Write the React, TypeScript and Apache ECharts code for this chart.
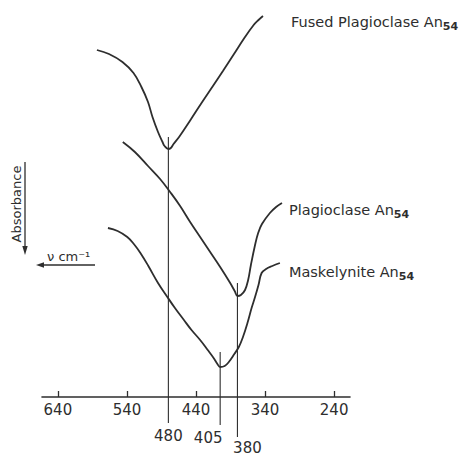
import React, { useEffect, useRef } from "react";
import * as echarts from "echarts";

// Wavenumber (cm^-1) axis ticks
const tickValues = [640, 540, 440, 340, 240];

// Fused Plagioclase An54 (relative absorbance, arbitrary units; higher = less absorbance)
const fusedWavenumber = [583.5, 566, 546.5, 530.5, 519, 509.5, 503, 495, 488.5, 485.5, 480, 476.5, 472.5, 464.5, 448, 432, 414.5, 401, 385, 370, 356.5, 349.5, 343];
const fusedAbsorbance = [347, 343, 335, 324, 310, 295, 280, 265, 255, 251, 248, 249, 253, 260, 277, 294, 312, 326, 343, 359, 372, 377, 381];

// Plagioclase An54
const plagWavenumber = [546, 528.5, 509.5, 492, 477.5, 463, 448.5, 434, 419.5, 405, 390.5, 384, 380, 375, 369, 364.5, 360.5, 354.5, 350, 344.5, 333, 324, 315.5];
const plagAbsorbance = [255, 245, 231, 218, 205, 191, 175, 160, 145, 130, 114, 106, 101, 102, 107, 117, 132, 152, 164, 173, 184, 190, 194];

// Maskelynite An54
const maskWavenumber = [567.5, 553.5, 539.5, 530, 520.5, 509, 495, 481.5, 470.5, 457.5, 446.5, 434, 423, 414.5, 409, 405, 398.5, 392.5, 384.5, 378, 372, 365.5, 359.5, 354.5, 349.5, 345, 338.5, 329.5, 318.5];
const maskAbsorbance = [169, 166, 160, 153, 144, 131, 114, 100, 89, 77, 67, 57, 47, 39, 33, 30, 31, 35, 43, 50, 60, 74, 89, 100, 112, 124, 128, 131, 134];

// Band-position marker lines
const peakWavenumbers = [480, 405, 380];
const peakLineTop = [260, 45, 114];
const peakLineBottom = [-26, -28, -40];

const curveNames = ["Fused Plagioclase An", "Plagioclase An", "Maskelynite An"];
const curveSubscript = "54";

const INK = "#2e2e2e";
const FONT = "DejaVu Sans";

export default function App() {
  const ref = useRef<HTMLDivElement>(null);

  useEffect(() => {
    if (!ref.current) return;
    const chart = echarts.init(ref.current, null, { renderer: "svg" });

    const rich = {
      a: { fontSize: 14.5, fontFamily: FONT, color: INK, lineHeight: 20 },
      s: { fontSize: 11, fontFamily: FONT, color: INK, fontWeight: "bold", lineHeight: 11, verticalAlign: "bottom" },
    };

    const curve = (idx: number, wav: number[], abs: number[], distance: number, offsetY: number) => ({
      type: "line",
      name: curveNames[idx],
      smooth: 0.4,
      symbol: "circle",
      symbolSize: 0,
      showSymbol: true,
      silent: true,
      clip: false,
      lineStyle: { color: INK, width: 1.8 },
      itemStyle: { color: INK },
      emphasis: { disabled: true },
      data: wav.map((w, i) =>
        i === wav.length - 1
          ? {
              value: [w, abs[i]],
              label: {
                show: true,
                position: "right",
                distance,
                offset: [0, offsetY],
                formatter: `{a|${curveNames[idx]}}{s|${curveSubscript}}`,
                rich,
              },
            }
          : [w, abs[i]]
      ),
    });

    const labelOffsets = [0, -12, 10];
    const markerSeries = peakWavenumbers.map((w, i) => ({
      type: "line",
      symbol: "circle",
      symbolSize: 0,
      showSymbol: true,
      silent: true,
      clip: false,
      lineStyle: { color: INK, width: 1.1 },
      itemStyle: { color: INK },
      emphasis: { disabled: true },
      data: [
        [w, peakLineTop[i]],
        {
          value: [w, peakLineBottom[i]],
          label: {
            show: true,
            position: "bottom",
            distance: i === 2 ? 3 : 5,
            offset: [labelOffsets[i], 0],
            formatter: String(w),
            fontSize: 15,
            fontFamily: FONT,
            color: INK,
          },
        },
      ],
    }));

    const option = {
      animation: false,
      backgroundColor: "#ffffff",
      grid: { left: 42, right: 115, top: 10, bottom: 60, containLabel: false, outerBoundsMode: "none" },
      xAxis: {
        type: "value",
        min: 217,
        max: 663,
        inverse: true,
        axisLine: { onZero: false, lineStyle: { color: INK, width: 1.6 } },
        axisTick: { inside: true, length: 6, customValues: tickValues, lineStyle: { color: INK, width: 1.3 } },
        axisLabel: { customValues: tickValues, fontSize: 15, fontFamily: FONT, color: INK, margin: 5 },
        splitLine: { show: false },
      },
      yAxis: { type: "value", min: 0, max: 387, show: false },
      series: [
        curve(0, fusedWavenumber, fusedAbsorbance, 28, 6),
        curve(1, plagWavenumber, plagAbsorbance, 7, 7),
        curve(2, maskWavenumber, maskAbsorbance, 9, 9),
        ...markerSeries,
      ],
      graphic: [
        {
          type: "text",
          x: 16,
          y: 204,
          rotation: Math.PI / 2,
          style: { text: "Absorbance", fontSize: 13, fontFamily: FONT, fill: INK, textAlign: "center", textVerticalAlign: "middle" },
        },
        { type: "line", shape: { x1: 25, y1: 162, x2: 25, y2: 249 }, style: { stroke: INK, lineWidth: 1.3 } },
        { type: "polygon", shape: { points: [[22.3, 246], [27.7, 246], [25, 255]] }, style: { fill: INK } },
        {
          type: "text",
          x: 47,
          y: 256,
          style: { text: "ν cm⁻¹", fontSize: 13, fontFamily: FONT, fill: INK, textAlign: "left", textVerticalAlign: "middle" },
        },
        { type: "line", shape: { x1: 42, y1: 265, x2: 95, y2: 265 }, style: { stroke: INK, lineWidth: 1.3 } },
        { type: "polygon", shape: { points: [[36, 265], [44, 262.3], [44, 267.7]] }, style: { fill: INK } },
      ],
    };

    chart.setOption(option as any);
    return () => chart.dispose();
  }, []);

  return (
    <div
      ref={ref}
      style={{ position: "fixed", left: 0, top: 0, width: 465, height: 457, background: "#fff" }}
    />
  );
}
